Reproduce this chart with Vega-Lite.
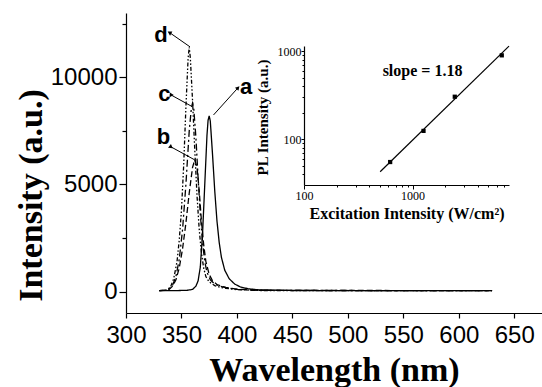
{
  "$schema": "https://vega.github.io/schema/vega-lite/v6.json",
  "width": 416,
  "height": 300,
  "autosize": {"type": "none"},
  "padding": {"left": 126, "top": 13, "right": 0, "bottom": 74},
  "background": "white",
  "config": {"view": {"stroke": null}, "axis": {"grid": false}},
  "datasets": {
    "spectra": [
      {"curve": "b", "wl": 330, "I": 40}, {"curve": "b", "wl": 338, "I": 60}, {"curve": "b", "wl": 342, "I": 250}, {"curve": "b", "wl": 345, "I": 550}, {"curve": "b", "wl": 348, "I": 1100}, {"curve": "b", "wl": 351, "I": 2000}, {"curve": "b", "wl": 354, "I": 3200}, {"curve": "b", "wl": 357, "I": 4600}, {"curve": "b", "wl": 360, "I": 5800}, {"curve": "b", "wl": 362, "I": 6150}, {"curve": "b", "wl": 364, "I": 5800}, {"curve": "b", "wl": 366, "I": 4700}, {"curve": "b", "wl": 368, "I": 3300}, {"curve": "b", "wl": 370, "I": 2200}, {"curve": "b", "wl": 372, "I": 1400}, {"curve": "b", "wl": 375, "I": 800}, {"curve": "b", "wl": 378, "I": 500}, {"curve": "b", "wl": 382, "I": 330}, {"curve": "b", "wl": 386, "I": 250}, {"curve": "b", "wl": 390, "I": 200}, {"curve": "b", "wl": 400, "I": 110}, {"curve": "b", "wl": 420, "I": 60}, {"curve": "b", "wl": 630, "I": 40},
      {"curve": "c", "wl": 330, "I": 40}, {"curve": "c", "wl": 338, "I": 80}, {"curve": "c", "wl": 342, "I": 300}, {"curve": "c", "wl": 345, "I": 700}, {"curve": "c", "wl": 348, "I": 1500}, {"curve": "c", "wl": 351, "I": 2900}, {"curve": "c", "wl": 354, "I": 5000}, {"curve": "c", "wl": 357, "I": 7500}, {"curve": "c", "wl": 359, "I": 8600}, {"curve": "c", "wl": 360, "I": 8800}, {"curve": "c", "wl": 361, "I": 8600}, {"curve": "c", "wl": 363, "I": 7200}, {"curve": "c", "wl": 365, "I": 5300}, {"curve": "c", "wl": 367, "I": 3600}, {"curve": "c", "wl": 369, "I": 2300}, {"curve": "c", "wl": 371, "I": 1400}, {"curve": "c", "wl": 373, "I": 900}, {"curve": "c", "wl": 376, "I": 550}, {"curve": "c", "wl": 380, "I": 350}, {"curve": "c", "wl": 385, "I": 250}, {"curve": "c", "wl": 390, "I": 180}, {"curve": "c", "wl": 400, "I": 100}, {"curve": "c", "wl": 420, "I": 55}, {"curve": "c", "wl": 630, "I": 40},
      {"curve": "d", "wl": 330, "I": 40}, {"curve": "d", "wl": 336, "I": 60}, {"curve": "d", "wl": 340, "I": 200}, {"curve": "d", "wl": 343, "I": 600}, {"curve": "d", "wl": 346, "I": 1400}, {"curve": "d", "wl": 348, "I": 2400}, {"curve": "d", "wl": 350, "I": 3800}, {"curve": "d", "wl": 352, "I": 5900}, {"curve": "d", "wl": 354, "I": 8600}, {"curve": "d", "wl": 356, "I": 10900}, {"curve": "d", "wl": 357, "I": 11400}, {"curve": "d", "wl": 358, "I": 10900}, {"curve": "d", "wl": 360, "I": 8900}, {"curve": "d", "wl": 362, "I": 6600}, {"curve": "d", "wl": 364, "I": 4500}, {"curve": "d", "wl": 366, "I": 2900}, {"curve": "d", "wl": 368, "I": 1800}, {"curve": "d", "wl": 370, "I": 1100}, {"curve": "d", "wl": 372, "I": 700}, {"curve": "d", "wl": 375, "I": 450}, {"curve": "d", "wl": 380, "I": 280}, {"curve": "d", "wl": 385, "I": 200}, {"curve": "d", "wl": 390, "I": 150}, {"curve": "d", "wl": 400, "I": 90}, {"curve": "d", "wl": 420, "I": 50}, {"curve": "d", "wl": 630, "I": 40},
      {"curve": "a", "wl": 330, "I": 40}, {"curve": "a", "wl": 345, "I": 45}, {"curve": "a", "wl": 355, "I": 60}, {"curve": "a", "wl": 360, "I": 100}, {"curve": "a", "wl": 363, "I": 250}, {"curve": "a", "wl": 365, "I": 500}, {"curve": "a", "wl": 367, "I": 1150}, {"curve": "a", "wl": 369, "I": 2700}, {"curve": "a", "wl": 371, "I": 5000}, {"curve": "a", "wl": 373, "I": 7300}, {"curve": "a", "wl": 374, "I": 8000}, {"curve": "a", "wl": 375, "I": 8200}, {"curve": "a", "wl": 376, "I": 7950}, {"curve": "a", "wl": 378, "I": 6400}, {"curve": "a", "wl": 380, "I": 4700}, {"curve": "a", "wl": 382, "I": 3300}, {"curve": "a", "wl": 384, "I": 2300}, {"curve": "a", "wl": 386, "I": 1600}, {"curve": "a", "wl": 389, "I": 1000}, {"curve": "a", "wl": 393, "I": 600}, {"curve": "a", "wl": 398, "I": 350}, {"curve": "a", "wl": 403, "I": 220}, {"curve": "a", "wl": 410, "I": 130}, {"curve": "a", "wl": 420, "I": 80}, {"curve": "a", "wl": 450, "I": 50}, {"curve": "a", "wl": 630, "I": 40}
    ],
    "arrows": [
      {"curve": "a", "x1": 400.6, "y1": 9488, "x2": 378.9, "y2": 8242},
      {"curve": "b", "x1": 340.2, "y1": 6762, "x2": 362.1, "y2": 6142},
      {"curve": "c", "x1": 340.6, "y1": 9175, "x2": 358.6, "y2": 8662},
      {"curve": "d", "x1": 339.7, "y1": 12070, "x2": 357.7, "y2": 11420}
    ],
    "labels": [
      {"curve": "a", "x": 408.2, "y": 9525},
      {"curve": "b", "x": 333.8, "y": 7192},
      {"curve": "c", "x": 334.7, "y": 9222},
      {"curve": "d", "x": 331.6, "y": 11952}
    ],
    "fit": [
      {"ex": 503, "pl": 42.5},
      {"ex": 7740, "pl": 1146}
    ],
    "points": [
      {"ex": 622, "pl": 54.8},
      {"ex": 1262, "pl": 124},
      {"ex": 2450, "pl": 304},
      {"ex": 6640, "pl": 900}
    ],
    "note": [
      {"ex": 1236, "pl": 603, "text": "slope = 1.18"}
    ]
  },
  "layer": [
    {
      "layer": [
        {
          "data": {"name": "spectra"},
          "mark": {"type": "line", "color": "black", "strokeWidth": 1.3},
          "encoding": {
            "x": {
              "field": "wl", "type": "quantitative",
              "scale": {"domain": [300, 675], "nice": false, "zero": false},
              "axis": {
                "orient": "bottom",
                "values": [300, 325, 350, 375, 400, 425, 450, 475, 500, 525, 550, 575, 600, 625, 650, 675],
                "format": "d",
                "labelExpr": "datum.value % 50 == 0 ? datum.label : ''",
                "labelOverlap": false,
                "labelFlush": false,
                "labelFont": "Liberation Sans", "labelFontSize": 24, "labelColor": "black",
                "labelPadding": 5,
                "tickColor": "black", "tickWidth": 1.2,
                "tickSize": {"condition": {"test": "datum.value % 50 == 0", "value": 5}, "value": 3},
                "domainColor": "black", "domainWidth": 1.2,
                "title": "Wavelength (nm)",
                "titleFont": "Liberation Serif", "titleFontSize": 34, "titleFontWeight": "bold", "titleColor": "black",
                "titleY": 67, "titleBaseline": "alphabetic"
              }
            },
            "y": {
              "field": "I", "type": "quantitative",
              "scale": {"domain": [-1000, 13000], "nice": false, "zero": false},
              "axis": {
                "orient": "left",
                "values": [0, 2500, 5000, 7500, 10000, 12500],
                "format": "d",
                "labelExpr": "datum.value % 5000 == 0 ? datum.label : ''",
                "labelOverlap": false,
                "labelFlush": false,
                "labelFont": "Liberation Sans", "labelFontSize": 24, "labelColor": "black",
                "labelPadding": 2,
                "tickColor": "black", "tickWidth": 1.2,
                "tickSize": {"condition": {"test": "datum.value % 5000 == 0", "value": 7}, "value": 4},
                "domainColor": "black", "domainWidth": 1.2,
                "title": "Intensity (a.u.)",
                "titleFont": "Liberation Serif", "titleFontSize": 34, "titleFontWeight": "bold", "titleColor": "black",
                "titleX": -95, "titleY": 182, "titleBaseline": "middle"
              }
            },
            "strokeDash": {
              "field": "curve", "type": "nominal",
              "scale": {"domain": ["a", "b", "c", "d"], "range": [[1, 0], [6, 3], [7, 3, 2, 3], [4, 2, 1.5, 2, 1.5, 2]]},
              "legend": null
            }
          }
        },
        {
          "data": {"name": "arrows"},
          "mark": {"type": "rule", "color": "black", "strokeWidth": 1},
          "encoding": {
            "x": {"field": "x1", "type": "quantitative"},
            "y": {"field": "y1", "type": "quantitative"},
            "x2": {"field": "x2"},
            "y2": {"field": "y2"}
          }
        },
        {
          "data": {"name": "arrows"},
          "mark": {"type": "point", "shape": "triangle", "filled": true, "color": "black", "size": 22, "opacity": 1},
          "encoding": {
            "x": {"field": "x1", "type": "quantitative"},
            "y": {"field": "y1", "type": "quantitative"},
            "angle": {
              "field": "curve", "type": "nominal",
              "scale": {"domain": ["a", "b", "c", "d"], "range": [42, 299, 299, 305]},
              "legend": null
            }
          }
        },
        {
          "data": {"name": "labels"},
          "mark": {"type": "text", "font": "Liberation Sans", "fontSize": 22, "fontWeight": "bold", "color": "black", "baseline": "middle", "align": "center"},
          "encoding": {
            "x": {"field": "x", "type": "quantitative"},
            "y": {"field": "y", "type": "quantitative"},
            "text": {"field": "curve"}
          }
        }
      ]
    },
    {
      "layer": [
        {
          "data": {"name": "fit"},
          "mark": {"type": "line", "color": "black", "strokeWidth": 1.2},
          "encoding": {
            "x": {
              "field": "ex", "type": "quantitative",
              "scale": {"type": "log", "domain": [100, 7740], "range": [178, 383], "nice": false},
              "axis": {
                "orient": "bottom", "offset": -128,
                "values": [100, 200, 300, 400, 500, 600, 700, 800, 900, 1000, 2000, 3000, 4000, 5000, 6000, 7000],
                "format": "d",
                "labelExpr": "datum.value == 100 || datum.value == 1000 ? datum.label : ''",
                "labelOverlap": false,
                "labelFlush": false,
                "labelFont": "Liberation Serif", "labelFontSize": 12, "labelColor": "black",
                "labelPadding": 1,
                "tickColor": "black", "tickWidth": 1,
                "tickSize": {"condition": {"test": "datum.value == 100 || datum.value == 1000", "value": 4}, "value": 2},
                "domainColor": "black", "domainWidth": 1.2,
                "title": "Excitation Intensity (W/cm²)",
                "titleFont": "Liberation Serif", "titleFontSize": 16, "titleFontWeight": "bold", "titleColor": "black",
                "titleY": 33, "titleBaseline": "alphabetic"
              }
            },
            "y": {
              "field": "pl", "type": "quantitative",
              "scale": {"type": "log", "domain": [30, 1150], "range": [172, 33], "nice": false},
              "axis": {
                "orient": "left", "offset": -178,
                "values": [40, 50, 60, 70, 80, 90, 100, 200, 300, 400, 500, 600, 700, 800, 900, 1000],
                "format": "d",
                "labelExpr": "datum.value == 100 || datum.value == 1000 ? datum.label : ''",
                "labelOverlap": false,
                "labelFlush": false,
                "labelFont": "Liberation Serif", "labelFontSize": 12, "labelColor": "black",
                "labelPadding": 0,
                "tickColor": "black", "tickWidth": 1,
                "tickSize": {"condition": {"test": "datum.value == 100 || datum.value == 1000", "value": 3}, "value": 2},
                "domainColor": "black", "domainWidth": 1.2,
                "title": "PL Intensity (a.u.)",
                "titleFont": "Liberation Serif", "titleFontSize": 15, "titleFontWeight": "bold", "titleColor": "black",
                "titleX": -42, "titleY": 104, "titleBaseline": "middle"
              }
            }
          }
        },
        {
          "data": {"name": "points"},
          "mark": {"type": "point", "shape": "square", "filled": true, "color": "black", "size": 18, "opacity": 1},
          "encoding": {
            "x": {"field": "ex", "type": "quantitative"},
            "y": {"field": "pl", "type": "quantitative"}
          }
        },
        {
          "data": {"name": "note"},
          "mark": {"type": "text", "font": "Liberation Serif", "fontSize": 16, "fontWeight": "bold", "color": "black", "align": "center", "baseline": "middle"},
          "encoding": {
            "x": {"field": "ex", "type": "quantitative"},
            "y": {"field": "pl", "type": "quantitative"},
            "text": {"field": "text"}
          }
        }
      ]
    }
  ],
  "resolve": {"scale": {"x": "independent", "y": "independent"}}
}
